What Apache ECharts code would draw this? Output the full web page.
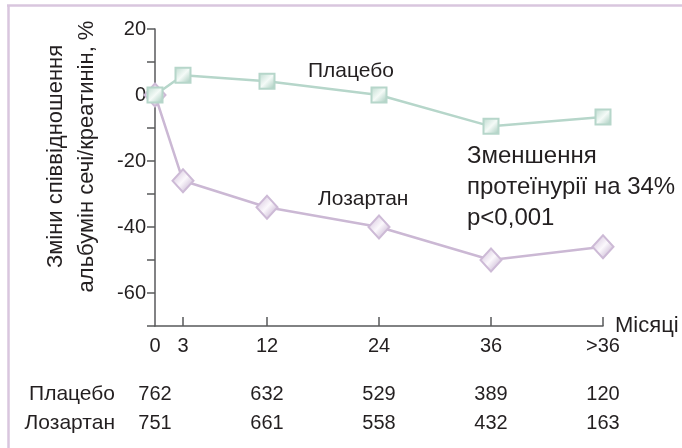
<!DOCTYPE html>
<html>
<head>
<meta charset="utf-8">
<script src="https://cdn.jsdelivr.net/npm/echarts@6/dist/echarts.min.js"></script>
<style>
html,body{margin:0;padding:0;background:#fff;}
#chart{width:682px;height:448px;}
</style>
</head>
<body>
<div id="chart"></div>
<script>
// ---- data ----
var months = [0, 3, 12, 24, 36, 48];
var monthLabels = ['0', '3', '12', '24', '36', '>36'];
var placebo = [0, 6, 4.2, 0, -9.5, -6.7];
var losartan = [0, -26, -34, -40, -50, -46];
var countMonths = [0, 12, 24, 36, 48];
var placeboN = [762, 632, 529, 389, 120];
var losartanN = [751, 661, 558, 432, 163];
var yTicks = [20, 0, -20, -40, -60];
var seriesNames = ['Плацебо', 'Лозартан'];
var yName = 'Зміни співвідношення\nальбумін сечі/креатинін, %';
var xName = 'Місяці';
var note = 'Зменшення\nпротеїнурії на 34%\np<0,001';

var FONT = 'Liberation Sans';
var TXT = '#231f20';
var AX = '#58595b';

function pairs(ys){ return months.map(function(m,i){ return [m, ys[i]]; }); }
function grad(a,b,c){
  return new echarts.graphic.LinearGradient(0,0,1,1,[
    {offset:0,color:a},{offset:0.5,color:b},{offset:1,color:c}]);
}
function countAxis(offset, name, arr){
  return {
    type:'value', min:0, max:48, position:'bottom', offset:offset,
    axisLine:{show:false, onZero:false}, axisTick:{show:false}, splitLine:{show:false},
    name:name, nameLocation:'start', nameGap:40, nameMoveOverlap:false,
    nameTextStyle:{fontFamily:FONT, fontSize:21, color:TXT, verticalAlign:'middle'},
    axisLabel:{customValues:countMonths, margin:0, verticalAlign:'middle',
      fontFamily:FONT, fontSize:20, color:TXT,
      formatter:function(v){ var i=countMonths.indexOf(v); return i<0?'':String(arr[i]); }}
  };
}

var chart = echarts.init(document.getElementById('chart'));
chart.setOption({
  animation:false,
  backgroundColor:'#fff',
  grid:{left:155, right:79, top:29, bottom:122, containLabel:false, outerBoundsMode:'none'},
  xAxis:[{
    type:'value', min:0, max:48, position:'bottom',
    axisLine:{onZero:false, lineStyle:{color:AX, width:1.5}},
    axisTick:{inside:true, length:9, customValues:[3,12,24,36,48], lineStyle:{color:AX, width:1.5}},
    splitLine:{show:false},
    axisLabel:{customValues:months, margin:10, fontFamily:FONT, fontSize:20, color:TXT,
      formatter:function(v){ var i=months.indexOf(v); return i<0?'':monthLabels[i]; }},
    name:xName, nameLocation:'end', nameGap:12, nameMoveOverlap:false,
    nameTextStyle:{fontFamily:FONT, fontSize:22, color:TXT, verticalAlign:'middle', padding:[0,0,14,0]}
  },
  countAxis(68, seriesNames[0], placeboN),
  countAxis(97, seriesNames[1], losartanN)
  ],
  yAxis:{
    type:'value', min:-70, max:20, interval:10,
    axisLine:{show:true, onZero:false, lineStyle:{color:AX, width:1.5}},
    axisTick:{show:true, length:8, lineStyle:{color:AX, width:1.5}},
    splitLine:{show:false},
    axisLabel:{margin:9, fontFamily:FONT, fontSize:20, color:TXT,
      formatter:function(v){ return yTicks.indexOf(v)>=0 ? String(v) : ''; }},
    name:yName, nameLocation:'middle', nameRotate:90, nameGap:53, nameMoveOverlap:false,
    nameTextStyle:{fontFamily:FONT, fontSize:22, color:TXT, lineHeight:31, padding:[0,0,0,42]}
  },
  series:[{
    name:seriesNames[1], type:'line', data:pairs(losartan), z:2,
    symbol:'diamond', symbolSize:[21,23],
    lineStyle:{color:'#cbb8d4', width:2.5},
    itemStyle:{color:grad('#cbb6d5','#fbf8fc','#b59cc3'), borderColor:'#cdbad6', borderWidth:2}
  },{
    name:seriesNames[0], type:'line', data:pairs(placebo), z:3,
    symbol:'rect', symbolSize:15,
    lineStyle:{color:'#b6d6ca', width:2.5},
    itemStyle:{color:grad('#b9d9cc','#f4faf7','#9cc6b6'), borderColor:'#b6d6ca', borderWidth:2}
  }],
  graphic:[
    {type:'line', shape:{x1:7, y1:5.5, x2:682, y2:5.5}, style:{stroke:'#d9c6de', lineWidth:2.5}, silent:true},
    {type:'line', shape:{x1:8.5, y1:5, x2:8.5, y2:448}, style:{stroke:'#d9c6de', lineWidth:2.5}, silent:true},
    {type:'text', left:308, top:61, style:{text:seriesNames[0], font:'21px "'+FONT+'"', fill:TXT}},
    {type:'text', left:318, top:189, style:{text:seriesNames[1], font:'21px "'+FONT+'"', fill:TXT}},
    {type:'text', left:467, top:141, style:{text:note, font:'24px "'+FONT+'"', fill:TXT, lineHeight:31}}
  ]
});
</script>
</body>
</html>
